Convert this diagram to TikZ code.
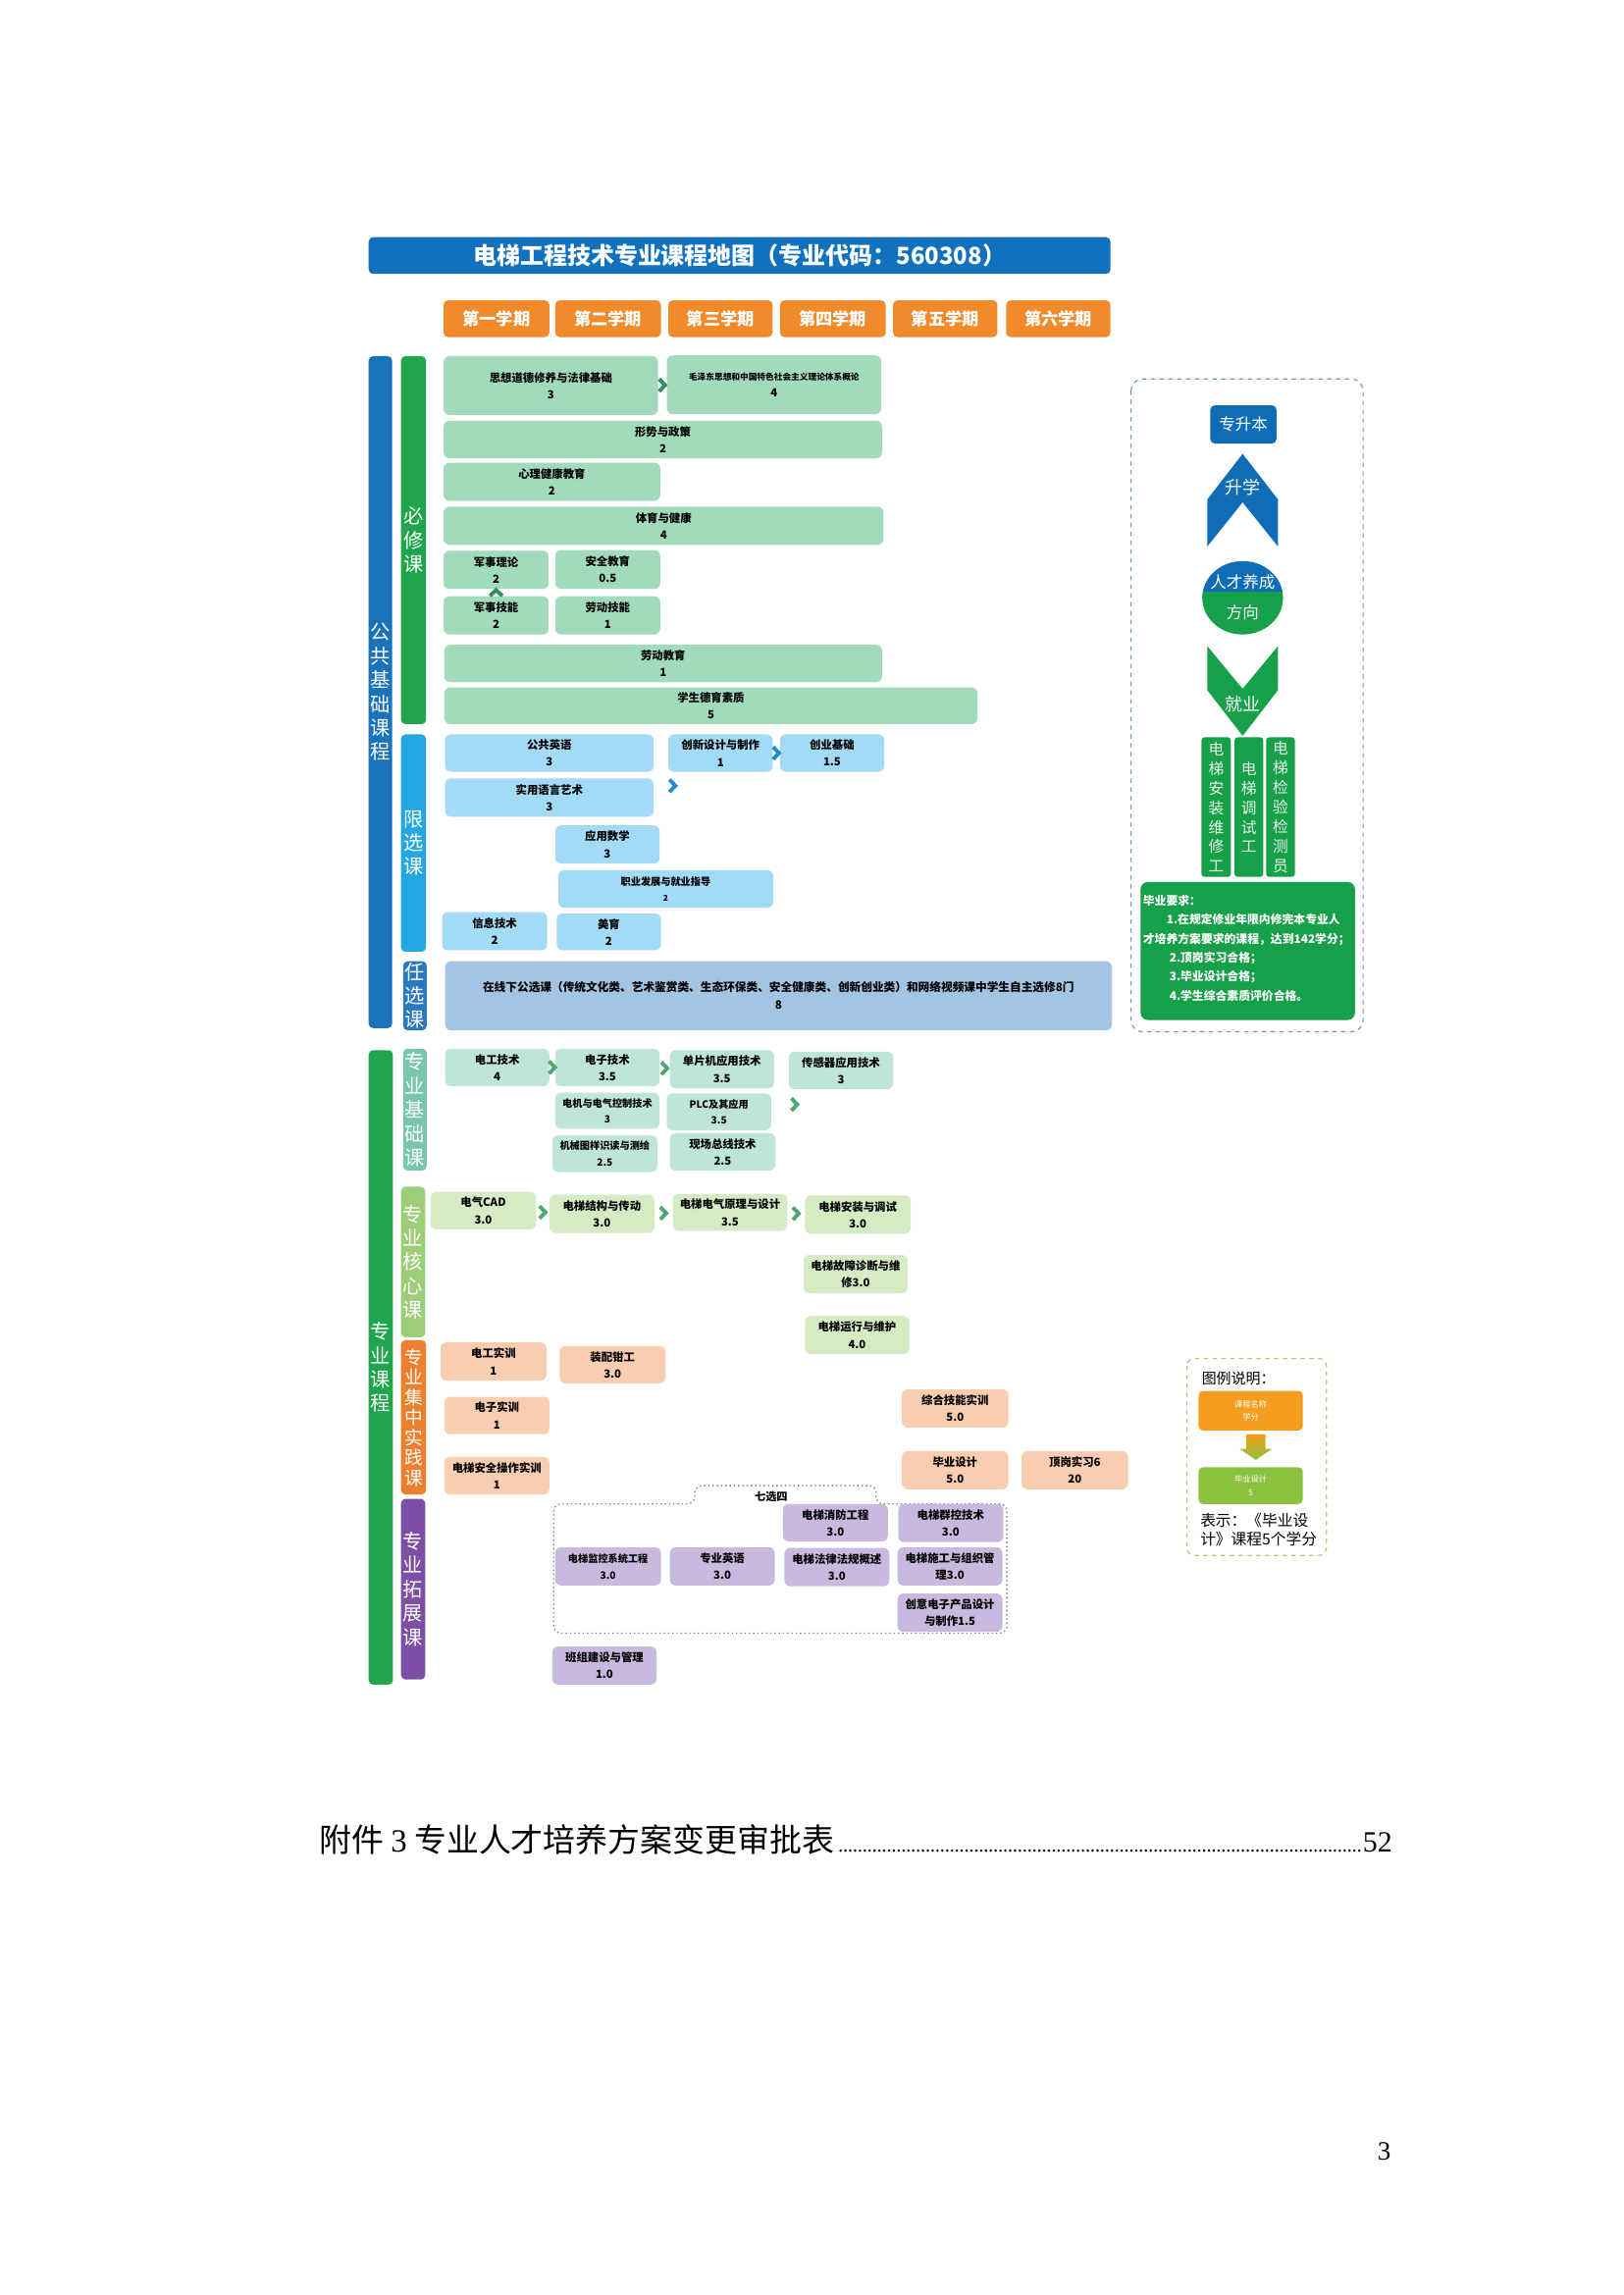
\documentclass[tikz,border=0pt]{standalone}
\usepackage{fontspec}
\setmainfont{Noto Sans CJK SC}
\newfontfamily\serifnum{Liberation Serif}
\usetikzlibrary{calc}
\definecolor{tblue}{HTML}{1271BD}
\definecolor{torange}{HTML}{F18A2B}
\definecolor{pubblue}{HTML}{1A72BA}
\definecolor{bgreen}{HTML}{1FA54C}
\definecolor{gbox}{HTML}{A2DBBB}
\definecolor{xcyan}{HTML}{23A7E2}
\definecolor{cbox}{HTML}{A3DAF5}
\definecolor{rxblue}{HTML}{2A78BF}
\definecolor{rbox}{HTML}{A3C4E3}
\definecolor{jcteal}{HTML}{78C6AB}
\definecolor{jcbox}{HTML}{BFE5D8}
\definecolor{hxlime}{HTML}{9ECD7A}
\definecolor{hxbox}{HTML}{D4EBC4}
\definecolor{sjorange}{HTML}{EE7F2D}
\definecolor{sjbox}{HTML}{F9CDB0}
\definecolor{tzpurple}{HTML}{7D4FA4}
\definecolor{tzbox}{HTML}{C9B9DE}
\definecolor{chgreen}{HTML}{2F8F62}
\definecolor{chblue}{HTML}{1D8ECF}
\definecolor{chgreenb}{HTML}{4FA872}
\definecolor{rblue}{HTML}{0E6DB6}
\definecolor{rgreen}{HTML}{17A04A}
\definecolor{rdash}{HTML}{7394BC}
\definecolor{ldash}{HTML}{C6BE78}
\definecolor{lorange}{HTML}{F49D1E}
\definecolor{lgreen}{HTML}{8DC240}
\definecolor{coltext}{HTML}{E8F4E8}
\newcommand\mkbox[7]{\node[#6, minimum width={#4-#2}, minimum height={#5-#3}] (#1) at ({(#2+#4)/2},{(#3+#5)/2}) {#7};}
\tikzset{
  bx/.style={rounded corners=4pt, inner sep=0pt, outer sep=0pt, align=center, text=black, font=\bfseries\fontsize{7.6}{11.5}\selectfont},
  smalltxt/.style={font=\bfseries\fontsize{6.8}{11}\selectfont},
  bar/.style={rounded corners=3pt, inner sep=0pt, outer sep=0pt, align=center, text=white, font=\fontsize{13.5}{16.3}\selectfont},
  tabbox/.style={rounded corners=3pt, inner sep=0pt, outer sep=0pt, fill=torange, text=white, font=\bfseries\fontsize{11.5}{12}\selectfont},
  col/.style={rounded corners=2pt, inner sep=0pt, outer sep=0pt, fill=rgreen, align=center, text=coltext, font=\fontsize{10.5}{13.3}\selectfont},
  wtxt/.style={text=white, inner sep=0pt, font=\fontsize{12}{13}\selectfont},
  pics/chev/.style={code={\draw[line width=2.6pt, line join=miter] (-2.2,-4.2) -- (1.8,0) -- (-2.2,4.2);}},
  pics/chevup/.style={code={\draw[line width=2.6pt, line join=miter] (-4.2,2.2) -- (0,-1.8) -- (4.2,2.2);}}
}
\begin{document}
\begin{tikzpicture}[x=1pt,y=-1pt]
\useasboundingbox (0,0) rectangle (1105,1562.6);
\fill[white] (0,0) rectangle (1105,1562.6);

% title and semesters
\mkbox{title}{251}{161.5}{756}{186.5}{rounded corners=3pt, inner sep=0pt, fill=tblue, text=white, font=\bfseries\fontsize{16}{16}\selectfont}{电梯工程技术专业课程地图（专业代码：560308）}
\mkbox{t1}{302}{204.5}{374}{229.5}{tabbox}{第一学期}
\mkbox{t2}{378}{204.5}{450}{229.5}{tabbox}{第二学期}
\mkbox{t3}{455}{204.5}{526}{229.5}{tabbox}{第三学期}
\mkbox{t4}{531}{204.5}{603}{229.5}{tabbox}{第四学期}
\mkbox{t5}{608}{204.5}{679}{229.5}{tabbox}{第五学期}
\mkbox{t6}{685}{204.5}{756}{229.5}{tabbox}{第六学期}

% category bars
\mkbox{pubbar}{251}{242.5}{267}{700}{bar, fill=pubblue}{公\\共\\基\\础\\课\\程}
\mkbox{bxbar}{273}{242.5}{290}{493}{bar, fill=bgreen}{必\\修\\课}
\mkbox{xxbar}{273}{500}{290}{648}{bar, fill=xcyan}{限\\选\\课}
\mkbox{rxbar}{274.5}{654.5}{290.5}{701.5}{bar, fill=rxblue}{任\\选\\课}
\mkbox{probar}{251}{715}{267.5}{1147}{bar, fill=bgreen}{专\\业\\课\\程}
\mkbox{jcbar}{274.5}{714}{290.5}{797}{bar, fill=jcteal}{专\\业\\基\\础\\课}
\mkbox{hxbar}{273}{808}{289.5}{910.5}{bar, fill=hxlime}{专\\业\\核\\心\\课}
\mkbox{sjbar}{273}{912.5}{290}{1017.5}{bar, fill=sjorange, font=\fontsize{12.5}{13.7}\selectfont}{专\\业\\集\\中\\实\\践\\课}
\mkbox{tzbar}{273}{1020.5}{289.5}{1143.5}{bar, fill=tzpurple}{专\\业\\拓\\展\\课}

% 必修课
\mkbox{bx1}{302}{242.5}{448}{282.5}{bx, fill=gbox}{思想道德修养与法律基础\\3}
\mkbox{bx2}{454}{242}{600}{282}{bx, fill=gbox}{{\fontsize{5.8}{8}\selectfont 毛泽东思想和中国特色社会主义理论体系概论}\\4}
\mkbox{bx3}{302}{286.5}{600.5}{312}{bx, fill=gbox}{形势与政策\\2}
\mkbox{bx4}{302}{315}{449.5}{341}{bx, fill=gbox}{心理健康教育\\2}
\mkbox{bx5}{302}{345}{601.5}{371}{bx, fill=gbox}{体育与健康\\4}
\mkbox{bx6}{302}{375}{373.5}{401}{bx, fill=gbox}{军事理论\\2}
\mkbox{bx7}{378}{374.5}{449.5}{401}{bx, fill=gbox}{安全教育\\0.5}
\mkbox{bx8}{302}{406}{373.5}{432}{bx, fill=gbox}{军事技能\\2}
\mkbox{bx9}{378}{406}{449.5}{432}{bx, fill=gbox}{劳动技能\\1}
\mkbox{bx10}{302.5}{439}{600.5}{464.5}{bx, fill=gbox}{劳动教育\\1}
\mkbox{bx11}{302.5}{468}{665.5}{493}{bx, fill=gbox}{学生德育素质\\5}
\pic[color=chgreen] at ($(bx1.east)!0.5!(bx2.west)$) {chev};
\pic[color=chgreen] at ($(bx8.north)!0.5!(bx6.south)$) {chevup};

% 限选课
\mkbox{xb1}{303}{500}{445}{525.5}{bx, fill=cbox}{公共英语\\3}
\mkbox{xb2}{455}{500}{526}{525.5}{bx, fill=cbox}{创新设计与制作\\1}
\mkbox{xb3}{531}{500}{602}{525.5}{bx, fill=cbox}{创业基础\\1.5}
\mkbox{xb4}{303}{530}{445}{556}{bx, fill=cbox}{实用语言艺术\\3}
\mkbox{xb5}{378}{562}{449}{588}{bx, fill=cbox}{应用数学\\3}
\mkbox{xb6}{380}{592.5}{526.5}{618}{bx, smalltxt, fill=cbox}{职业发展与就业指导\\{\fontsize{5.5}{8}\selectfont 2}}
\mkbox{xb7}{301}{621}{372.5}{647}{bx, fill=cbox}{信息技术\\2}
\mkbox{xb8}{379}{622}{450}{647}{bx, fill=cbox}{美育\\2}
\pic[color=chblue] at ($(xb2.east)!0.5!(xb3.west)$) {chev};
\pic[color=chblue] at ($(xb4.east)+(13,-8)$) {chev};

% 任选课
\mkbox{rb}{303}{654.5}{757}{701.5}{bx, fill=rbox, font=\bfseries\fontsize{7.8}{12}\selectfont}{在线下公选课（传统文化类、艺术鉴赏类、生态环保类、安全健康类、创新创业类）和网络视频课中学生自主选修8门\\8}

% 专业基础课
\mkbox{jb1}{303}{714}{374}{739.5}{bx, fill=jcbox}{电工技术\\4}
\mkbox{jb2}{378}{714}{449}{739.5}{bx, fill=jcbox}{电子技术\\3.5}
\mkbox{jb3}{456}{715}{527}{741}{bx, fill=jcbox}{单片机应用技术\\3.5}
\mkbox{jb4}{537}{716}{608}{741.5}{bx, fill=jcbox}{传感器应用技术\\3}
\mkbox{jb5}{378}{744}{449}{768.5}{bx, smalltxt, fill=jcbox}{电机与电气控制技术\\3}
\mkbox{jb6}{454}{744.5}{525}{769.5}{bx, smalltxt, fill=jcbox}{PLC及其应用\\3.5}
\mkbox{jb7}{376}{773}{447.5}{798}{bx, smalltxt, fill=jcbox}{机械图样识读与测绘\\2.5}
\mkbox{jb8}{456}{771.5}{528}{797}{bx, fill=jcbox}{现场总线技术\\2.5}
\pic[color=chgreenb] at ($(jb1.east)!0.5!(jb2.west)$) {chev};
\pic[color=chgreenb] at ($(jb2.east)!0.5!(jb3.west)$) {chev};
\pic[color=chgreenb] at ($(jb6.east)+(16,-5)$) {chev};

% 专业核心课
\mkbox{hb1}{293}{811.5}{365}{837}{bx, fill=hxbox}{电气CAD\\3.0}
\mkbox{hb2}{374}{813.5}{445.5}{839.5}{bx, fill=hxbox}{电梯结构与传动\\3.0}
\mkbox{hb3}{458}{813}{536}{838}{bx, fill=hxbox}{电梯电气原理与设计\\3.5}
\mkbox{hb4}{548}{814}{620}{840}{bx, fill=hxbox}{电梯安装与调试\\3.0}
\mkbox{hb5}{547}{854.5}{618}{880.5}{bx, fill=hxbox}{电梯故障诊断与维\\修3.0}
\mkbox{hb6}{548}{896}{619}{922}{bx, fill=hxbox}{电梯运行与维护\\4.0}
\pic[color=chgreenb] at ($(hb1.east)!0.5!(hb2.west)$) {chev};
\pic[color=chgreenb] at ($(hb2.east)!0.5!(hb3.west)$) {chev};
\pic[color=chgreenb] at ($(hb3.east)!0.5!(hb4.west)$) {chev};

% 专业集中实践课
\mkbox{sb1}{300}{914}{372}{940}{bx, fill=sjbox}{电工实训\\1}
\mkbox{sb2}{381}{916.5}{453}{942}{bx, fill=sjbox}{装配钳工\\3.0}
\mkbox{sb3}{302.5}{951}{374}{976.5}{bx, fill=sjbox}{电子实训\\1}
\mkbox{sb4}{302.5}{992}{374}{1017.5}{bx, fill=sjbox}{电梯安全操作实训\\1}
\mkbox{sb5}{614}{946}{686.5}{972}{bx, fill=sjbox}{综合技能实训\\5.0}
\mkbox{sb6}{614}{988}{686.5}{1014}{bx, fill=sjbox}{毕业设计\\5.0}
\mkbox{sb7}{695.5}{988}{768}{1014}{bx, fill=sjbox}{顶岗实习6\\20}

% 专业拓展课
\draw[gray, dotted, line width=0.9pt, rounded corners=5pt] (473,1024) -- (473,1011.5) -- (596.5,1011.5) -- (596.5,1024) -- (685.5,1024) -- (685.5,1112) -- (377,1112) -- (377,1024) -- cycle;
\node[inner sep=0pt, font=\bfseries\fontsize{7.5}{8}\selectfont] (qx) at (525,1019) {七选四};
\mkbox{tb1}{533}{1024}{604.5}{1049.5}{bx, fill=tzbox}{电梯消防工程\\3.0}
\mkbox{tb2}{611.5}{1024}{683}{1050}{bx, fill=tzbox}{电梯群控技术\\3.0}
\mkbox{tb3}{378}{1053.5}{450}{1079.5}{bx, smalltxt, fill=tzbox}{电梯监控系统工程\\3.0}
\mkbox{tb4}{456}{1053.5}{527.5}{1079.5}{bx, fill=tzbox}{专业英语\\3.0}
\mkbox{tb5}{534}{1054}{605.5}{1080}{bx, fill=tzbox}{电梯法律法规概述\\3.0}
\mkbox{tb6}{611}{1053.5}{682.5}{1079.5}{bx, fill=tzbox}{电梯施工与组织管\\理3.0}
\mkbox{tb7}{611}{1085}{682.5}{1111}{bx, fill=tzbox}{创意电子产品设计\\与制作1.5}
\mkbox{tb8}{376}{1121}{447}{1147}{bx, fill=tzbox}{班组建设与管理\\1.0}

% right panel
\draw[rdash, dashed, line width=0.8pt, rounded corners=8pt] (770,258) rectangle (928,702.5);
\mkbox{zsb}{824}{276}{869}{302}{rounded corners=3pt, inner sep=0pt, fill=rblue, text=white, font=\fontsize{11}{12}\selectfont}{专升本}
\fill[rblue] (846,309) -- (870,340) -- (870,372) -- (846,342) -- (822,372) -- (822,340) -- cycle;
\node[wtxt] (sx) at (846,332) {升学};
\begin{scope}
\clip (846,407) ellipse (27.5 and 25);
\fill[rblue] (815,380) rectangle (877,403);
\fill[rgreen] (815,403) rectangle (877,434);
\end{scope}
\node[wtxt, font=\fontsize{11}{12}\selectfont] (rc1) at (846,396.5) {人才养成};
\node[wtxt, font=\fontsize{11}{12}\selectfont] (rc2) at (846,417) {方向};
\fill[rgreen] (822,440) -- (846,469) -- (870,440) -- (870,470) -- (846,501) -- (822,470) -- cycle;
\node[wtxt] (jy) at (846,479.5) {就业};
\mkbox{c1}{818}{502}{838}{597}{col}{电\\梯\\安\\装\\维\\修\\工}
\mkbox{c2}{840.5}{502}{860}{597}{col}{电\\梯\\调\\试\\工}
\mkbox{c3}{862}{502}{881.5}{597}{col}{电\\梯\\检\\验\\检\\测\\员}
\mkbox{reqbox}{776.5}{600.5}{922.5}{694.5}{rounded corners=5pt, inner sep=0pt, fill=rgreen}{}
\node[anchor=north west, inner sep=0pt, align=left, text=white, font=\bfseries\fontsize{7.9}{13}\selectfont] (req) at (778,609) {毕业要求：\\
\hspace*{16pt}1.在规定修业年限内修完本专业人\\
才培养方案要求的课程，达到142学分；\\
\hspace*{18pt}2.顶岗实习合格；\\
\hspace*{18pt}3.毕业设计合格；\\
\hspace*{18pt}4.学生综合素质评价合格。};

% legend
\draw[ldash, dashed, line width=0.8pt, rounded corners=5pt] (808,925) rectangle (903,1059);
\node[anchor=west, inner sep=0pt, font=\fontsize{10}{11}\selectfont] (lgt) at (818,938.5) {图例说明：};
\mkbox{lg1}{816}{947}{887}{974}{rounded corners=3pt, inner sep=0pt, fill=lorange, text=white, align=center, font=\fontsize{5.5}{9}\selectfont}{课程名称\\学分}
\mkbox{lg2}{816}{999}{887}{1024}{rounded corners=3pt, inner sep=0pt, fill=lgreen, text=white, align=center, font=\fontsize{5.5}{9}\selectfont}{毕业设计\\5}
\shade[top color=lorange, bottom color=lgreen] (848.5,976.5) -- (861.5,976.5) -- (861.5,986.5) -- (866,986.5) -- (855,994) -- (844,986.5) -- (848.5,986.5) -- cycle;
\node[anchor=north west, inner sep=0pt, align=left, font=\fontsize{10.5}{12.5}\selectfont] (lgd) at (817,1030) {表示：《毕业设\\计》课程5个学分};

% footer
\node[anchor=base west, inner sep=0pt, font=\fontsize{22}{22}\selectfont] (ft) at (217,1261) {附件 {\serifnum 3} 专业人才培养方案变更审批表};
\node[anchor=base east, inner sep=0pt, font=\serifnum\fontsize{20}{20}\selectfont] (n52) at (948,1261) {52};
\draw[line width=1.9pt, line cap=round, dash pattern=on 0pt off 3.3pt] ($(ft.base east)+(4,-1)$) -- ($(n52.base west)+(-2,-1)$);
\node[anchor=base east, inner sep=0pt, font=\serifnum\fontsize{18}{18}\selectfont] (pg) at (947,1471) {3};
\end{tikzpicture}
\end{document}
